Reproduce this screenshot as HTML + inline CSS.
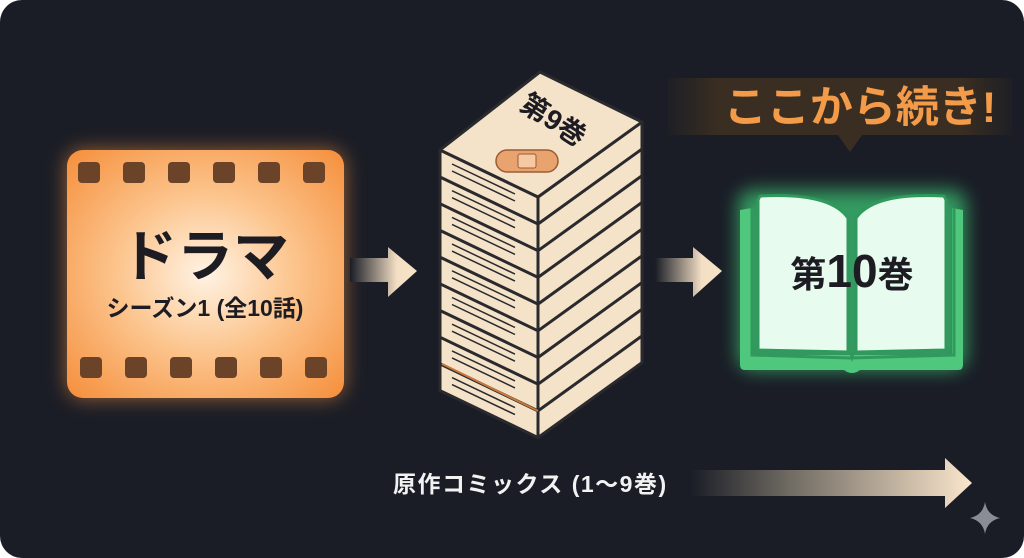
<!DOCTYPE html>
<html><head><meta charset="utf-8"><style>
html,body{margin:0;padding:0;background:#fff;width:1024px;height:558px;overflow:hidden}
svg{display:block}
text{font-family:"Liberation Sans","Noto Sans CJK JP",sans-serif;font-weight:bold}
</style></head><body>
<svg width="1024" height="558" viewBox="0 0 1024 558">
<defs>
<radialGradient id="film" cx="0.5" cy="0.5" r="0.7">
<stop offset="0" stop-color="#fff3e4"/><stop offset="0.45" stop-color="#fcc58e"/><stop offset="1" stop-color="#f58f3c"/>
</radialGradient>
<linearGradient id="arr" x1="0" x2="1"><stop offset="0" stop-color="#1a1d26"/><stop offset="0.7" stop-color="#f3dfc4"/><stop offset="1" stop-color="#f6e3c8"/></linearGradient>
<linearGradient id="arr2" x1="0" x2="1"><stop offset="0" stop-color="#1a1d26"/><stop offset="0.35" stop-color="#6f6a62"/><stop offset="1" stop-color="#fbe6cc"/></linearGradient>
<linearGradient id="call" x1="0" x2="1"><stop offset="0" stop-color="#1e1f24"/><stop offset="0.15" stop-color="#3a2e22"/><stop offset="0.85" stop-color="#3a2e22"/><stop offset="1" stop-color="#1e1f24"/></linearGradient>
<filter id="glowO" x="-30%" y="-30%" width="160%" height="160%"><feGaussianBlur stdDeviation="10"/></filter>
<filter id="glowG" x="-30%" y="-30%" width="160%" height="160%"><feGaussianBlur stdDeviation="9"/></filter>
</defs>
<rect x="0" y="0" width="1024" height="558" rx="22" fill="#1a1d26"/>

<rect x="67" y="150" width="277" height="248" rx="16" fill="#f58f3c" opacity="0.6" filter="url(#glowO)"/>
<rect x="67" y="150" width="277" height="248" rx="16" fill="url(#film)"/>
<g fill="#6b4328">
<rect x="78" y="162" width="22" height="21" rx="4"/><rect x="123" y="162" width="22" height="21" rx="4"/><rect x="168" y="162" width="22" height="21" rx="4"/><rect x="213" y="162" width="22" height="21" rx="4"/><rect x="258" y="162" width="22" height="21" rx="4"/><rect x="303" y="162" width="22" height="21" rx="4"/>
<rect x="80" y="357" width="22" height="21" rx="4"/><rect x="125" y="357" width="22" height="21" rx="4"/><rect x="170" y="357" width="22" height="21" rx="4"/><rect x="215" y="357" width="22" height="21" rx="4"/><rect x="260" y="357" width="22" height="21" rx="4"/><rect x="305" y="357" width="22" height="21" rx="4"/>
</g>
<text x="205" y="276" font-size="56" text-anchor="middle" fill="#1c1c22">ドラマ</text>
<text x="205" y="316" font-size="23" text-anchor="middle" fill="#1c1c22">シーズン1 (全10話)</text>

<polygon points="350,258 388,258 388,247 417,271 388,297 388,282 350,282" fill="url(#arr)"/>
<polygon points="655,258 693,258 693,247 722,271 693,297 693,282 655,282" fill="url(#arr)"/>

<g stroke="#2a2a2e" stroke-width="3" stroke-linejoin="round" fill="#f4e3c8">
<g transform="translate(0,213.6)"><polygon points="440,150 538,197 538,224 440,177"/><polygon points="538,197 642,122 642,149 538,224"/><path d="M452,164 L515,194 M452,171 L515,201" stroke-width="1.5"/></g>
<g transform="translate(0,186.9)"><polygon points="440,150 538,197 538,224 440,177"/><polygon points="538,197 642,122 642,149 538,224"/><path d="M452,164 L515,194 M452,171 L515,201" stroke-width="1.5"/><path d="M442,177 L538,224" stroke="#c9793c" stroke-width="2"/></g>
<g transform="translate(0,160.2)"><polygon points="440,150 538,197 538,224 440,177"/><polygon points="538,197 642,122 642,149 538,224"/><path d="M452,164 L515,194 M452,171 L515,201" stroke-width="1.5"/></g>
<g transform="translate(0,133.5)"><polygon points="440,150 538,197 538,224 440,177"/><polygon points="538,197 642,122 642,149 538,224"/><path d="M452,164 L515,194 M452,171 L515,201" stroke-width="1.5"/></g>
<g transform="translate(0,106.8)"><polygon points="440,150 538,197 538,224 440,177"/><polygon points="538,197 642,122 642,149 538,224"/><path d="M452,164 L515,194 M452,171 L515,201" stroke-width="1.5"/></g>
<g transform="translate(0,80.1)"><polygon points="440,150 538,197 538,224 440,177"/><polygon points="538,197 642,122 642,149 538,224"/><path d="M452,164 L515,194 M452,171 L515,201" stroke-width="1.5"/></g>
<g transform="translate(0,53.4)"><polygon points="440,150 538,197 538,224 440,177"/><polygon points="538,197 642,122 642,149 538,224"/><path d="M452,164 L515,194 M452,171 L515,201" stroke-width="1.5"/><path d="M442,150 L538,197" stroke="#c9793c" stroke-width="2"/></g>
<g transform="translate(0,26.7)"><polygon points="440,150 538,197 538,224 440,177"/><polygon points="538,197 642,122 642,149 538,224"/><path d="M452,164 L515,194 M452,171 L515,201" stroke-width="1.5"/></g>
<g><polygon points="440,150 538,197 538,224 440,177"/><polygon points="538,197 642,122 642,149 538,224"/><path d="M452,164 L515,194 M452,171 L515,201" stroke-width="1.5"/></g>
<polygon points="440,150 540,72 642,122 538,197"/>
</g>
<rect x="496" y="150" width="62" height="22" rx="11" fill="#e9a36e" stroke="#9a5c35" stroke-width="1.5"/>
<rect x="518" y="154" width="18" height="14" rx="2" fill="#f6c9a2" stroke="#9a5c35" stroke-width="1"/>
<text x="0" y="0" font-size="28" fill="#1c1c22" text-anchor="middle" transform="translate(548,128) rotate(33)">第9巻</text>

<path d="M668,78 H1012 V135 H862 L850,152 L838,135 H668 Z" fill="url(#call)"/>
<text x="860" y="122" font-size="43" text-anchor="middle" fill="#f39b48">ここから続き!</text>

<g filter="url(#glowG)" opacity="0.7"><rect x="738" y="190" width="228" height="180" rx="14" fill="#3fd07a"/></g>
<path d="M740,210 L752,208 L752,355 L850,355 L852,362 L854,355 L952,355 L952,208 L963,210 L963,365 Q963,370 958,370 L860,370 Q852,376 844,370 L745,370 Q740,370 740,365 Z" fill="#4fc77c"/>
<path d="M758,200 L758,350 L848,352 L848,218 Q830,192 760,196 Z" fill="#e8fbef" stroke="#2f9a5b" stroke-width="3"/>
<path d="M946,200 L946,350 L856,352 L856,218 Q874,192 944,196 Z" fill="#e8fbef" stroke="#2f9a5b" stroke-width="3"/>
<path d="M752,208 L752,355 L850,358 L954,355 L954,208" fill="none" stroke="#2f9a5b" stroke-width="3"/>
<text x="852" y="287" font-size="36" text-anchor="middle" fill="#1c1c22">第<tspan font-size="46">10</tspan>巻</text>

<text x="393" y="492" font-size="23" letter-spacing="1.5" fill="#f2f2f2">原作コミックス (1〜9巻)</text>
<polygon points="690,470 945,470 945,458 972,483 945,508 945,496 690,496" fill="url(#arr2)"/>
<path d="M985,502 Q987,515 1000,518 Q987,521 985,534 Q983,521 970,518 Q983,515 985,502 Z" fill="#8a8d94"/>
</svg>
</body></html>
